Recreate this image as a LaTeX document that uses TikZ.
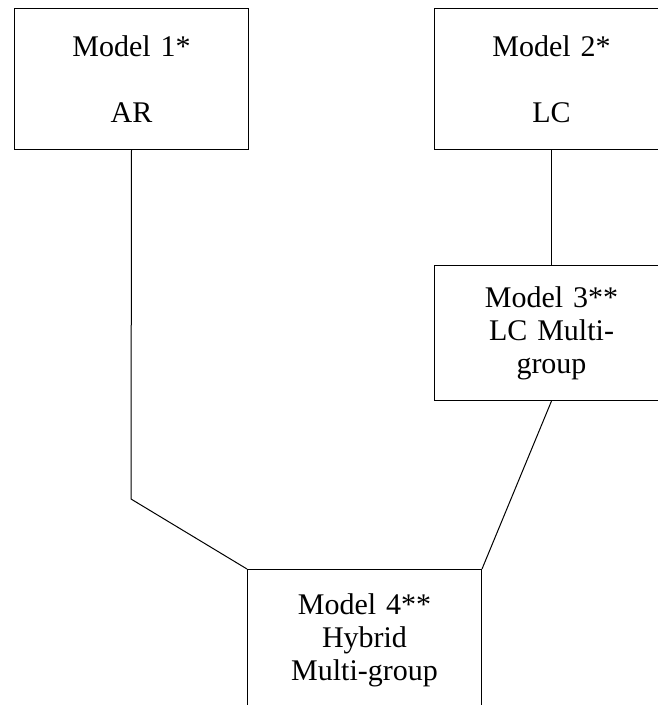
\documentclass[tikz,border=0pt]{standalone}
\usepackage{fontspec}
\setmainfont{Liberation Serif}
\begin{document}
\begin{tikzpicture}[x=1pt,y=-1pt,
  modelbox/.style={draw, line width=1pt, anchor=north west, inner sep=0pt,
    minimum width=234pt, text width=234pt, align=center,
    font=\fontsize{30}{33}\selectfont},
  link/.style={line width=1pt}]
  \useasboundingbox (0,0) rectangle (658,705);
  \clip (0,0) rectangle (658,705);
  \fill[white] (0,0) rectangle (658,705);

  \node[modelbox, minimum height=141pt] (m1) at (14,8) {Model 1*\\[33pt]AR};
  \node[modelbox, minimum height=141pt] (m2) at (434,8) {Model 2*\\[33pt]LC};
  \node[modelbox, minimum height=135pt] (m3) at (434,265) {Model 3**\\LC Multi-\\group};
  \node[modelbox, minimum height=142pt] (m4) at (247,569) {Model 4**\\Hybrid\\Multi-group};

  \coordinate (bend) at (131,499);
  \draw[link] (m1.south) -- (bend) -- (m4.north west);
  \draw[link] (m2.south) -- (m3.north);
  \draw[link] (m3.south) -- (m4.north east);
\end{tikzpicture}
\end{document}
